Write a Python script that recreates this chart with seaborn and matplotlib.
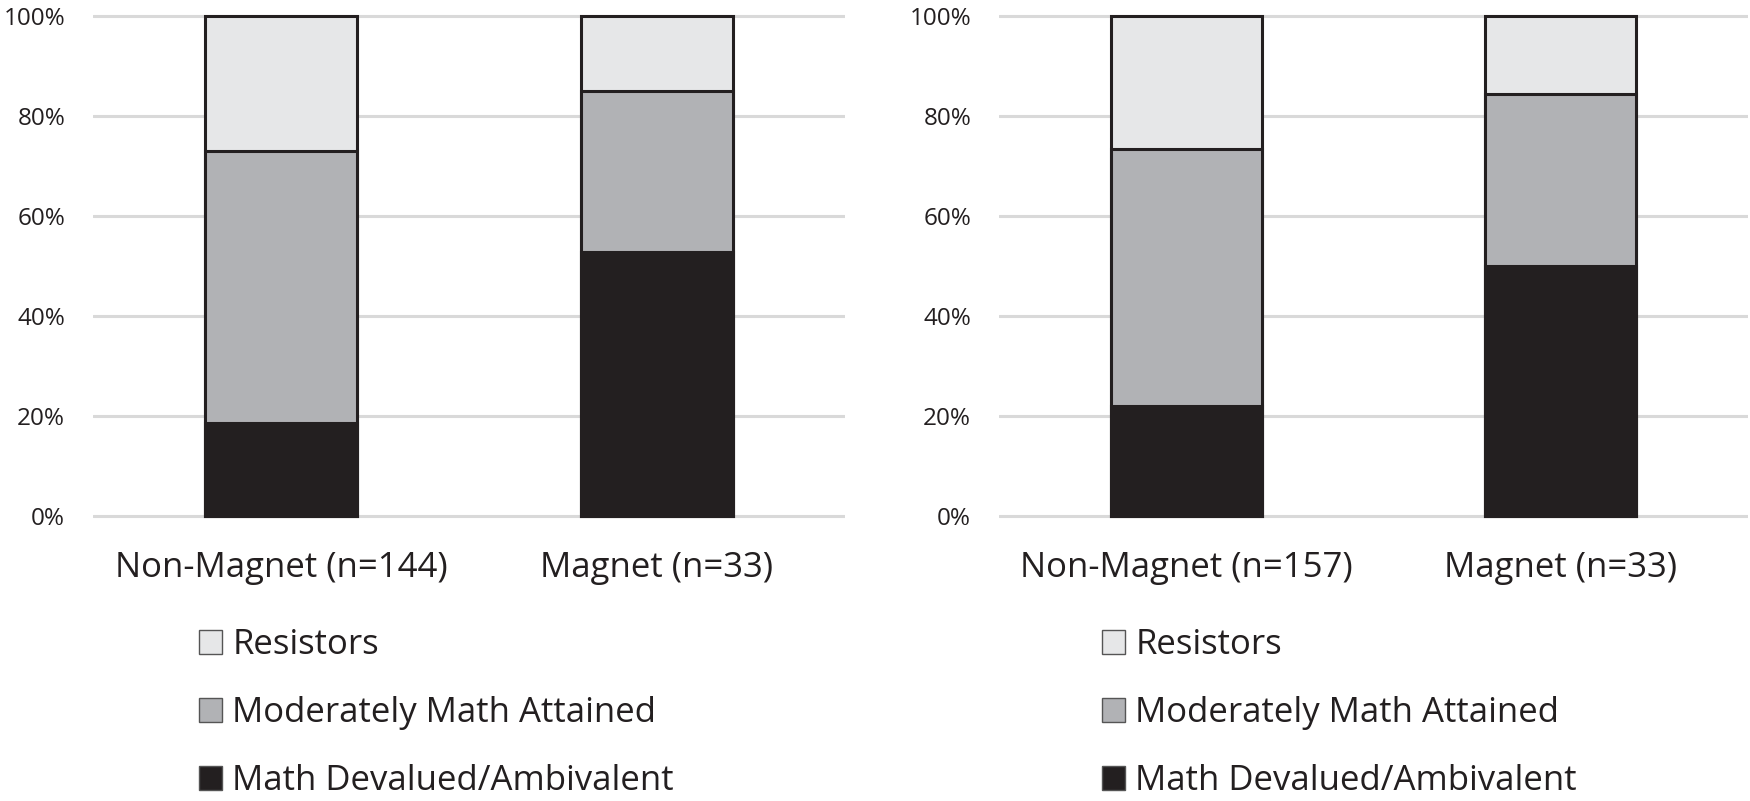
import matplotlib
matplotlib.use("Agg")
import matplotlib.pyplot as plt
import seaborn as sns
import pandas as pd
import numpy as np
from matplotlib.patches import Patch

# ---- data (percent) ----
categories_left = ["Non-Magnet (n=144)", "Magnet (n=33)"]
categories_right = ["Non-Magnet (n=157)", "Magnet (n=33)"]
series_names = ["Resistors", "Moderately Math Attained", "Math Devalued/Ambivalent"]

devalued_left = [18.7, 52.7]
moderate_left = [54.2, 32.3]
resistors_left = [27.1, 15.0]

devalued_right = [22.1, 50.0]
moderate_right = [51.2, 34.3]
resistors_right = [26.7, 15.7]

yticks = [0, 20, 40, 60, 80, 100]
ytick_labels = ["0%", "20%", "40%", "60%", "80%", "100%"]

colors = {"Resistors": "#E6E7E8",
          "Moderately Math Attained": "#B1B2B5",
          "Math Devalued/Ambivalent": "#231F20"}
edge = "#231F20"

sns.set_theme(style="white")
plt.rcParams['font.family'] = ['Open Sans', 'DejaVu Sans']

fig = plt.figure(figsize=(17.5, 8.01), dpi=100)
W, H = 1750, 801

def px_axes(x0, x1, ytop, ybot):
    return [x0 / W, 1 - ybot / H, (x1 - x0) / W, (ybot - ytop) / H]

ax_l = fig.add_axes(px_axes(93, 845, 13, 519))
ax_r = fig.add_axes(px_axes(999, 1748, 13, 519))

def draw(ax, cats, dev, mod, res, legend_x):
    df = pd.DataFrame({"cat": cats, "dev": dev, "mod": mod, "res": res})
    df["top_res"] = df["dev"] + df["mod"] + df["res"]
    df["top_mod"] = df["dev"] + df["mod"]
    df["top_dev"] = df["dev"]
    ax.set_axisbelow(True)
    for col, name in [("top_res", "Resistors"),
                      ("top_mod", "Moderately Math Attained"),
                      ("top_dev", "Math Devalued/Ambivalent")]:
        sns.barplot(data=df, x="cat", y=col, ax=ax, color=colors[name],
                    saturation=1, width=0.404, edgecolor=edge, linewidth=2.2,
                    order=cats)
    ax.set_ylim(-0.6, 100.6)
    ax.set_xlim(-0.5, 1.5)
    ax.set_yticks(yticks)
    ax.set_yticklabels(ytick_labels)
    ax.yaxis.grid(True, color="#D9D9D9", linewidth=2.2)
    ax.xaxis.grid(False)
    for s in ax.spines.values():
        s.set_visible(False)
    ax.tick_params(axis="y", length=0, pad=20, labelsize=17.5, labelcolor="#231F20")
    ax.tick_params(axis="x", length=0, pad=23, labelsize=25, labelcolor="#231F20")
    ax.set_xlabel("")
    ax.set_ylabel("")
    handles = [Patch(facecolor=colors[n], edgecolor="#555555", linewidth=1.0, label=n)
               for n in series_names]
    fig.legend(handles=handles, loc="upper left",
               bbox_to_anchor=(legend_x / W, 1 - 628 / H),
               frameon=False, fontsize=25, handlelength=0.66, handleheight=0.66,
               handletextpad=0.3, labelspacing=0.98, borderaxespad=0,
               borderpad=0, labelcolor="#231F20")

draw(ax_l, categories_left, devalued_left, moderate_left, resistors_left, 199)
draw(ax_r, categories_right, devalued_right, moderate_right, resistors_right, 1102)

fig.savefig("out.png", dpi=100)
